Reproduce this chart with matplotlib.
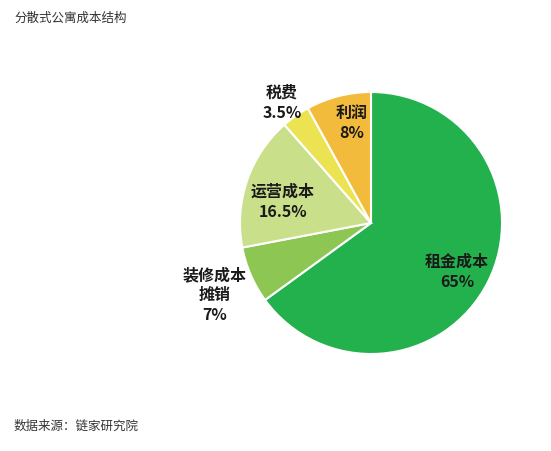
import matplotlib
matplotlib.use("Agg")
import matplotlib.pyplot as plt

plt.rcParams['font.family'] = ['Noto Sans CJK SC', 'DejaVu Sans']

categories = ['租金成本', '装修成本\n摊销', '运营成本', '税费', '利润']
values = [65, 7, 16.5, 3.5, 8]
pct_labels = ['65%', '7%', '16.5%', '3.5%', '8%']
colors = ['#22b14c', '#8dc653', '#cadf8a', '#ece353', '#f3bb3b']

W, H = 551, 451
fig = plt.figure(figsize=(W / 100, H / 100), dpi=100)
cx, cy, r = 371, 223, 131
ax = fig.add_axes([(cx - r) / W, (H - cy - r) / H, 2 * r / W, 2 * r / H])
ax.pie(values, colors=colors, startangle=90, counterclock=False, radius=1,
       wedgeprops=dict(edgecolor='white', linewidth=1.5))
ax.set_xlim(-1, 1)
ax.set_ylim(-1, 1)
ax.axis('off')

def px(x, y):
    return (x - cx) / r, (cy - y) / r

label_pos = [(457, 272), (215, 295), (283, 202), (282, 103), (352, 123)]
for cat, pl, (x, y) in zip(categories, pct_labels, label_pos):
    dx, dy = px(x, y)
    ax.text(dx, dy, cat + '\n' + pl, ha='center', va='center', fontsize=11.5,
            fontweight='bold', color='#1a1a1a', linespacing=1.3, clip_on=False)

fig.text(14 / W, 1 - 18 / H, '分散式公寓成本结构', ha='left', va='center',
         fontsize=9, color='#333333')
fig.text(14 / W, 1 - 426 / H, '数据来源：链家研究院', ha='left', va='center',
         fontsize=9, color='#333333')

fig.savefig('out.png', dpi=100, facecolor='white')
